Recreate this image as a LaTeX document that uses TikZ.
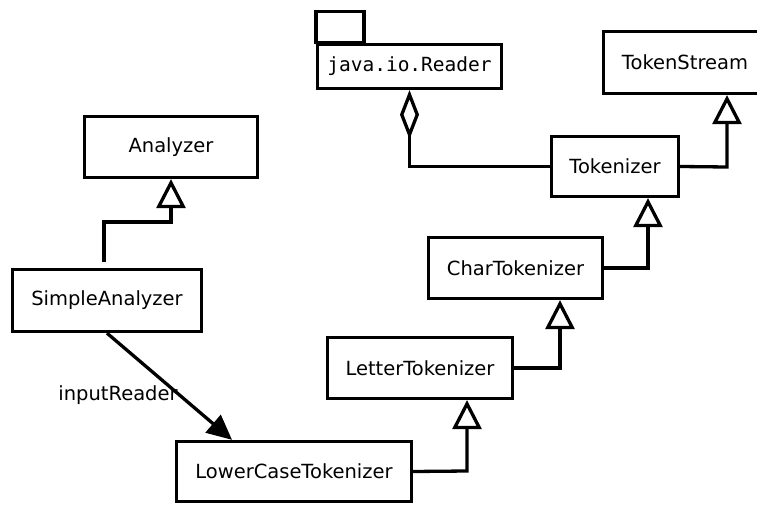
\documentclass[tikz,border=0pt]{standalone}
\usepackage{fontspec}
\setmainfont{DejaVu Sans}
\setmonofont{DejaVu Sans Mono}
\usetikzlibrary{arrows.meta,calc}

\tikzset{
  lw/.style={line width=3.3pt},
  cls/.style={draw, lw, fill=white, inner sep=0pt,
              font=\fontsize{19.5}{23}\selectfont},
  gen/.style={lw, -{Triangle[open, length=29pt, width=29pt]}},
  agg/.style={lw, -{Diamond[open, length=49pt, width=19pt]}},
  assoc/.style={lw, -{Triangle[length=25pt, width=23pt]}},
  lbl/.style={font=\fontsize{19.5}{23}\selectfont, inner sep=0pt}
}

\begin{document}
\begin{tikzpicture}[x=1pt, y=-1pt]
  \useasboundingbox (0,0) rectangle (757,505);
  \clip (0,0) rectangle (757,505);

  % classes
  \node[cls, minimum width=173pt, minimum height=61pt] (an) at (171,147) {Analyzer};
  \node[cls, minimum width=189pt, minimum height=62pt] (sa) at (107,300.5) {SimpleAnalyzer};
  \node[cls, minimum width=184pt, minimum height=44pt, font=\ttfamily\fontsize{19.5}{23}\selectfont] (rd) at (409.5,66.5) {java.io.Reader};
  \node[cls, minimum width=163pt, minimum height=62pt] (ts) at (685,62.5) {TokenStream};
  \node[cls, minimum width=127pt, minimum height=60pt] (tk) at (615,166.5) {Tokenizer};
  \node[cls, minimum width=174pt, minimum height=61pt] (ct) at (515.5,268) {CharTokenizer};
  \node[cls, minimum width=185pt, minimum height=61pt] (lt) at (420,368) {LetterTokenizer};
  \node[cls, minimum width=235pt, minimum height=60pt] (lc) at (294,471.5) {LowerCaseTokenizer};

  % package tab of java.io.Reader
  \draw[lw] (rd.north west) rectangle ++(48,-31);

  % bend points of the generalisation connectors
  \coordinate (c1) at (104,222);
  \coordinate (c2) at (727,167);
  \coordinate (c3) at (648,268);
  \coordinate (c4) at (560,368);
  \coordinate (c5) at (467,471);

  % generalisations
  \draw[gen, shorten <=6pt] (sa.north -| c1) -- (c1) -| (an.south);
  \draw[gen] (tk.east) -- (c2) -- (c2 |- ts.south);
  \draw[gen] (ct.east) -- (c3) -- (c3 |- tk.south);
  \draw[gen] (lt.east) -- (c4) -- (c4 |- ct.south);
  \draw[gen] (lc.east) -- (c5) -- (c5 |- lt.south);

  % aggregation Tokenizer -> java.io.Reader
  \draw[agg] (tk.west) -| (rd.south);

  % association with role name
  \node[lbl] (role) at (118,395) {inputReader};
  \coordinate (lcin) at ($(lc.north west)!0.24!(lc.north east)$);
  \draw[assoc] (sa.south) -- (lcin);
\end{tikzpicture}
\end{document}
